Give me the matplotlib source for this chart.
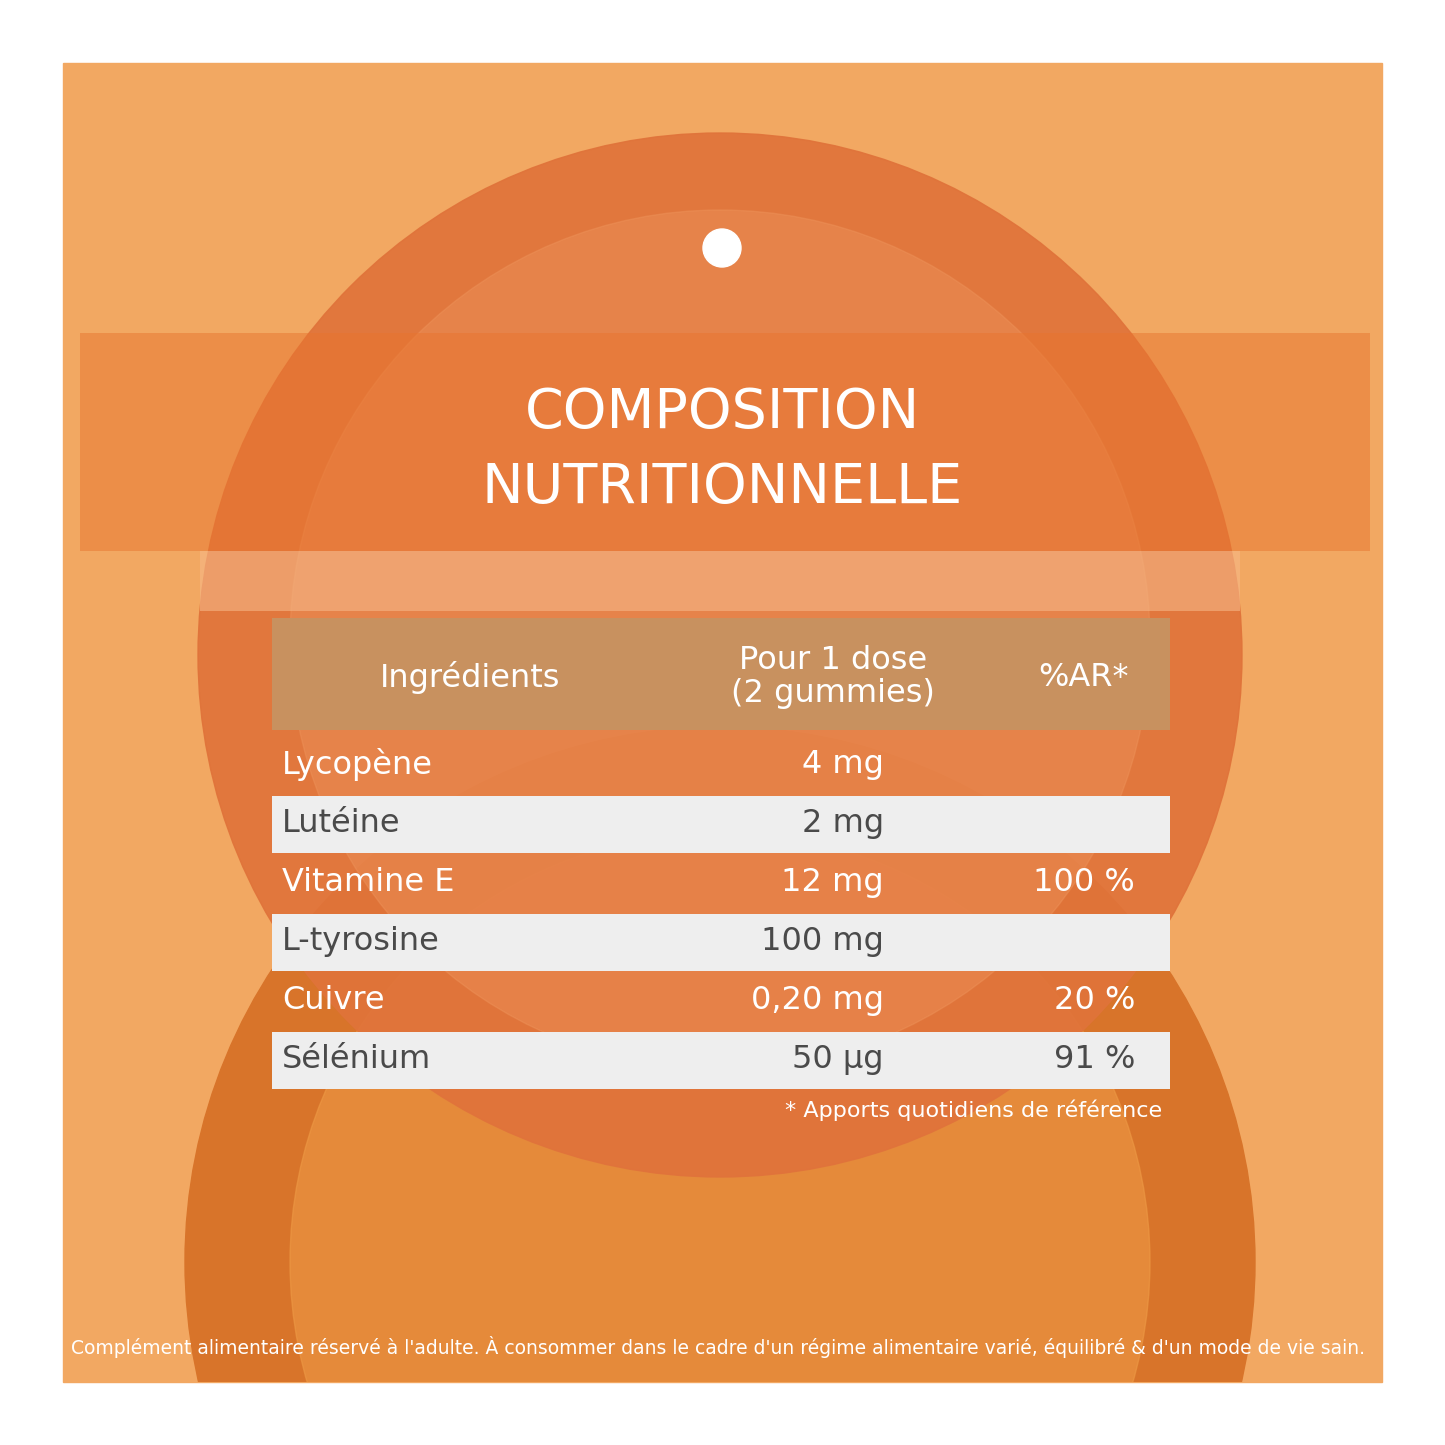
import matplotlib.pyplot as plt
from matplotlib.patches import Circle, Rectangle

ingredients = ['Lycopène', 'Lutéine', 'Vitamine E', 'L-tyrosine', 'Cuivre', 'Sélénium']
doses = ['4 mg', '2 mg', '12 mg', '100 mg', '0,20 mg', '50 µg']
ar = ['', '', '100 %', '', '20 %', '91 %']
headers = ['Ingrédients', 'Pour 1 dose\n(2 gummies)', '%AR*']

fig = plt.figure(figsize=(14.45, 14.45), dpi=100)
ax = fig.add_axes([0, 0, 1, 1])
ax.set_xlim(0, 1445)
ax.set_ylim(1445, 0)
ax.axis('off')

bg = Rectangle((63, 63), 1319, 1319, color='#F2A862', zorder=0)
ax.add_patch(bg)
shapes = [
    Circle((720, 1262), 535, color='#D8742A', zorder=1),
    Circle((720, 1262), 430, color='#EE9A45', alpha=0.6, zorder=1),
    Circle((720, 655), 522, color='#E0733A', alpha=0.92, zorder=2),
    Circle((720, 640), 430, color='#EE935A', alpha=0.45, zorder=2),
    Rectangle((80, 333), 1290, 218, color='#E8752F', alpha=0.5, lw=0, zorder=3),
    Rectangle((200, 551), 1040, 60, color='#F6B888', alpha=0.6, lw=0, zorder=3),
]
for s in shapes:
    ax.add_patch(s)
    s.set_clip_path(bg)
ax.add_patch(Circle((722, 248), 19, color='white', zorder=4))

ax.text(722, 413, 'COMPOSITION', color='white', fontsize=40, ha='center', va='center', zorder=5)
ax.text(722, 488, 'NUTRITIONNELLE', color='white', fontsize=40, ha='center', va='center', zorder=5)

x0, x1 = 272, 1170
ax.add_patch(Rectangle((x0, 618), x1 - x0, 112, color='#C8915F', lw=0, zorder=5))
hx = [470, 833, 1083]
for x, h in zip(hx, headers):
    ax.text(x, 677, h, color='white', fontsize=23, ha='center', va='center',
            linespacing=1.1, zorder=6)

row_h = 59
for i, (ing, d, a) in enumerate(zip(ingredients, doses, ar)):
    top = 737 + i * row_h
    if i % 2 == 1:
        ax.add_patch(Rectangle((x0, top), x1 - x0, row_h - 2, color='#EEEEEE', lw=0, zorder=5))
    c = '#4A4A4A' if i % 2 == 1 else 'white'
    yc = top + row_h / 2 - 2
    ax.text(282, yc, ing, color=c, fontsize=23, ha='left', va='center', zorder=6)
    ax.text(884, yc, d, color=c, fontsize=23, ha='right', va='center', zorder=6)
    ax.text(1135, yc, a, color=c, fontsize=23, ha='right', va='center', zorder=6)

ax.text(1162, 1110, '* Apports quotidiens de référence', color='white', fontsize=16,
        ha='right', va='center', zorder=6)
ax.text(718, 1347, "Complément alimentaire réservé à l'adulte. À consommer dans le cadre d'un régime "
        "alimentaire varié, équilibré & d'un mode de vie sain.", color='white', fontsize=13.5,
        ha='center', va='center', zorder=6)

fig.savefig('out.png', dpi=100, facecolor='white')
